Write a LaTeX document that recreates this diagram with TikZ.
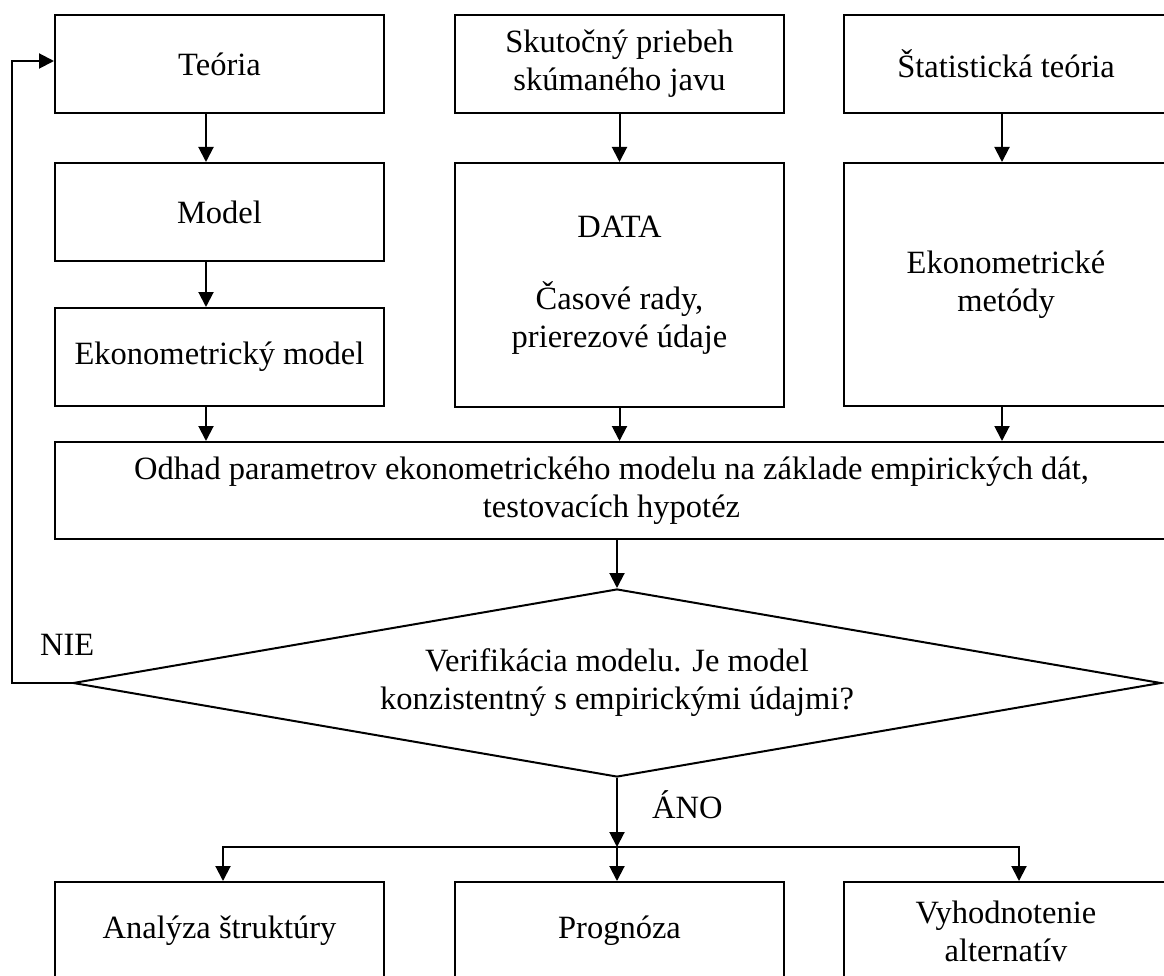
\documentclass[tikz,border=0pt]{standalone}
\usepackage{fontspec}
\setmainfont{Liberation Serif}
\usetikzlibrary{shapes.geometric,arrows.meta}

\begin{document}
\begin{tikzpicture}[x=1pt,y=-1pt,
    every node/.style={font=\fontsize{32.5pt}{38pt}\selectfont},
    box/.style={draw,line width=2pt,rectangle,align=center,inner sep=0pt,minimum width=329pt,minimum height=98pt},
    arr/.style={line width=2pt,-{Triangle[length=15pt,width=15pt]}}]
    \useasboundingbox (0,0) rectangle (1164,976);
    \node[box] (teoria) at (219.5,64) {Teória};
    \node[box] (skut) at (619.5,64) {Skutočný priebeh\\skúmaného javu};
    \node[box,minimum width=324pt] (stat) at (1006,64) {Štatistická teória};
    \node[box] (model) at (219.5,212) {Model};
    \node[box] (ekmodel) at (219.5,357) {Ekonometrický model};
    \node[box,minimum height=244pt] (data) at (619.5,285) {DATA\\[34pt]Časové rady,\\prierezové údaje};
    \node[box,minimum width=324pt,minimum height=243pt] (metody) at (1006,284.5) {Ekonometrické\\metódy};
    \node[box,minimum width=1113pt,minimum height=97pt] (odhad) at (611.5,490.5) {Odhad parametrov ekonometrického modelu na základe empirických dát,\\testovacích hypotéz};
    \node[draw,line width=2pt,diamond,aspect=5.8,inner sep=0pt,minimum width=1088pt,minimum height=188pt,align=center] (verif) at (617,683) {Verifikácia modelu. Je model\\konzistentný s empirickými údajmi?};
    \node[box] (analyza) at (219.5,931) {Analýza štruktúry};
    \node[box] (progn) at (619.5,931) {Prognóza};
    \node[box,minimum width=324pt] (vyhod) at (1006,931) {Vyhodnotenie\\alternatív};
    \node[anchor=base west,inner sep=0pt] (nie) at (40,655) {NIE};
    \node[anchor=base west,inner sep=0pt] (ano) at (652,818) {ÁNO};
    \coordinate (split) at (617,847);
    \coordinate (back) at (12,683);
    \draw[arr] ([xshift=-13.5pt]teoria.south) -- ([xshift=-13.5pt]model.north);
    \draw[arr] ([xshift=-13.5pt]model.south) -- ([xshift=-13.5pt]ekmodel.north);
    \draw[arr] (skut.south) -- (data.north);
    \draw[arr] ([xshift=-4pt]stat.south) -- ([xshift=-4pt]metody.north);
    \draw[arr] ([xshift=-13.5pt]ekmodel.south) -- ([xshift=-13.5pt]ekmodel.south |- odhad.north);
    \draw[arr] (data.south) -- (data.south |- odhad.north);
    \draw[arr] ([xshift=-4pt]metody.south) -- ([xshift=-4pt]metody.south |- odhad.north);
    \draw[arr] (odhad.south -| verif.north) -- (verif.north);
    \draw[arr] (verif.west) -- (back) |- ([yshift=3pt]teoria.west);
    \draw[arr] (verif.south) -- (split);
    \draw[arr] (split) -- (split |- progn.north);
    \draw[arr] (split) -| ([xshift=3.5pt]analyza.north);
    \draw[arr] (split) -| ([xshift=13pt]vyhod.north);
\end{tikzpicture}
\end{document}
